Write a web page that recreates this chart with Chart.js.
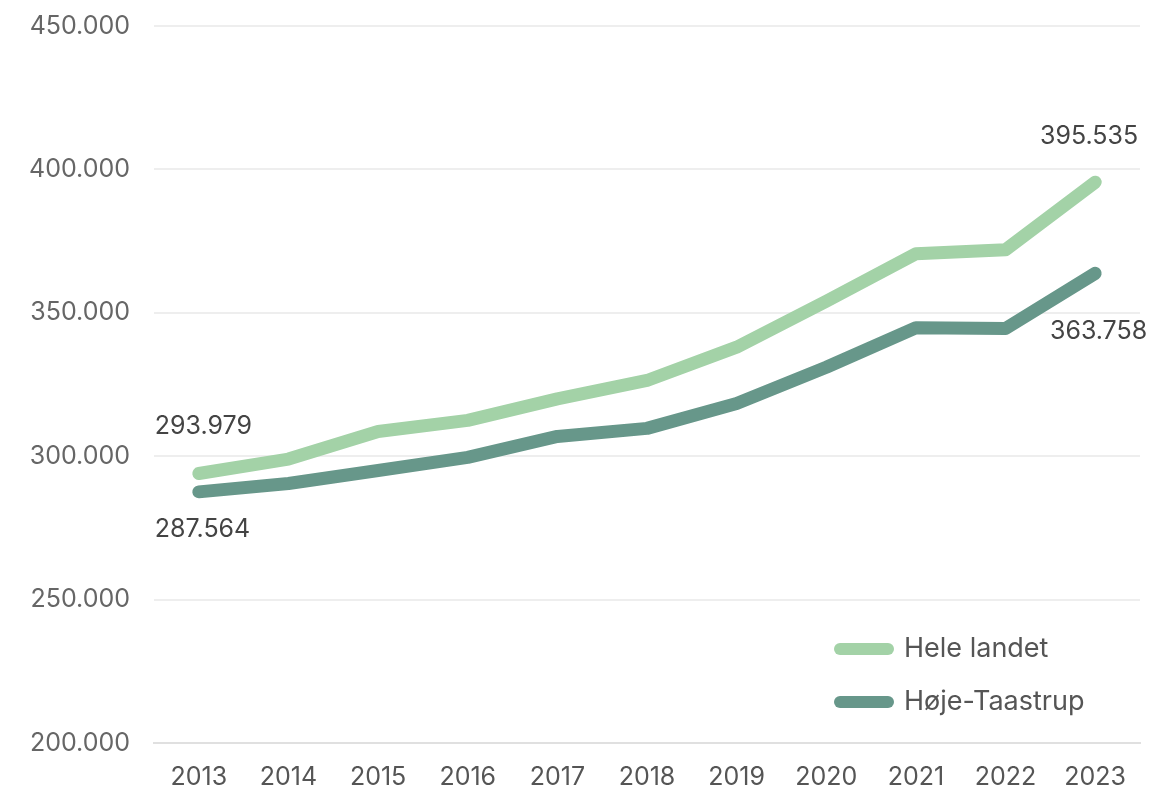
<!DOCTYPE html>
<html><head><meta charset="utf-8">
<script src="https://cdn.jsdelivr.net/npm/chart.js@4"></script>
<style>html,body{margin:0;padding:0;background:#fff}#wrap{width:1150px;height:787px}</style>
</head><body><div id="wrap"><canvas id="c" width="1150" height="787"></canvas></div>
<script>
const years = ['2013','2014','2015','2016','2017','2018','2019','2020','2021','2022','2023'];
const heleLandet = [293979, 299000, 308600, 312500, 320000, 326400, 338000, 354000, 370600, 372000, 395535];
const hojeTaastrup = [287564, 290500, 295000, 299600, 306900, 309700, 318400, 331000, 344800, 344500, 363758];
const seriesNames = ['Hele landet', 'Høje-Taastrup'];
const seriesColors = ['#a3d2a7', '#67978a'];
const FONT = 'Inter, Lato, sans-serif';
const fmt = v => v.toLocaleString('de-DE');

const labelPlugin = {
  id: 'endLabels',
  afterDatasetsDraw(chart) {
    const ctx = chart.ctx;
    ctx.save();
    ctx.font = '25px ' + FONT;
    ctx.fillStyle = '#444';
    ctx.textBaseline = 'middle';
    const m0 = chart.getDatasetMeta(0).data, m1 = chart.getDatasetMeta(1).data;
    const n = years.length - 1;
    ctx.textAlign = 'left';
    ctx.fillText(fmt(heleLandet[0]), m0[0].x - 44, m0[0].y - 47);
    ctx.fillText(fmt(hojeTaastrup[0]), m1[0].x - 44, m1[0].y + 38);
    ctx.textAlign = 'right';
    ctx.fillText(fmt(heleLandet[n]), m0[n].x + 43, m0[n].y - 46);
    ctx.fillText(fmt(hojeTaastrup[n]), m1[n].x + 52, m1[n].y + 58);
    const lx = 840, ly = [649, 702];
    ctx.font = '27px ' + FONT;
    for (let i = 0; i < 2; i++) {
      ctx.strokeStyle = seriesColors[i];
      ctx.lineWidth = 12;
      ctx.lineCap = 'round';
      ctx.beginPath();
      ctx.moveTo(lx, ly[i]);
      ctx.lineTo(lx + 48, ly[i]);
      ctx.stroke();
      ctx.textAlign = 'left';
      ctx.fillStyle = '#555';
      ctx.fillText(seriesNames[i], 904, ly[i]);
    }
    ctx.restore();
  }
};

new Chart(document.getElementById('c'), {
  type: 'line',
  data: {
    labels: years,
    datasets: [
      { label: seriesNames[0], data: heleLandet, borderColor: seriesColors[0], backgroundColor: seriesColors[0], borderWidth: 13, pointRadius: 0, borderCapStyle: 'round', borderJoinStyle: 'round', tension: 0 },
      { label: seriesNames[1], data: hojeTaastrup, borderColor: seriesColors[1], backgroundColor: seriesColors[1], borderWidth: 13, pointRadius: 0, borderCapStyle: 'round', borderJoinStyle: 'round', tension: 0 }
    ]
  },
  options: {
    responsive: false,
    animation: false,
    layout: { autoPadding: false, padding: { top: 0, right: 10, left: 0, bottom: 0 } },
    plugins: { legend: { display: false }, tooltip: { enabled: false } },
    scales: {
      x: {
        offset: true,
        grid: { display: false, drawTicks: false },
        border: { display: true, color: '#e0e0e0', width: 2 },
        ticks: { color: '#555', font: { family: FONT, size: 25 }, padding: 19, maxRotation: 0 },
        afterFit: s => { s.height = 44; }
      },
      y: {
        min: 200000, max: 450000,
        grid: { color: '#eeeeee', lineWidth: 2, drawTicks: false },
        border: { display: false },
        ticks: { stepSize: 50000, color: '#666', font: { family: FONT, size: 25 }, padding: 24, callback: v => fmt(v) },
        afterFit: s => { s.width = 154; s.paddingTop = 26; s.paddingBottom = 0; }
      }
    }
  },
  plugins: [labelPlugin]
});
</script></body></html>
